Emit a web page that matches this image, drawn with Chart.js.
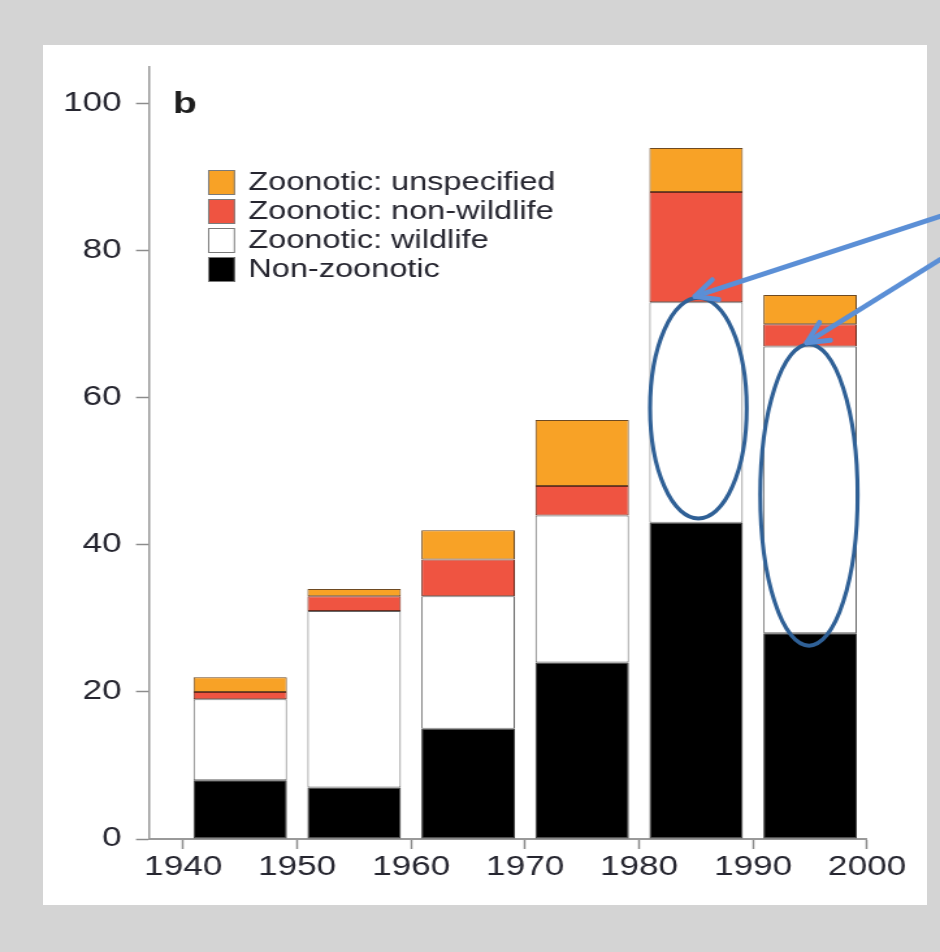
<!DOCTYPE html>
<html>
<head>
<meta charset="utf-8">
<title>Emerging infectious disease events by decade</title>
<script src="https://cdn.jsdelivr.net/npm/chart.js@4.4.1/dist/chart.umd.min.js"></script>
<style>
  html, body { margin: 0; padding: 0; background: #d4d4d4; }
  body { width: 940px; height: 952px; position: relative; overflow: hidden; }
  #panel { position: absolute; left: 43px; top: 45px; width: 884px; height: 860px; background: #fff; }
  /* the source figure is stretched sideways, so the chart is drawn narrow and scaled out */
  #stretch { position: absolute; left: 0; top: 0; width: 723px; height: 952px;
             transform: scaleX(1.30014); transform-origin: 0 0; }
</style>
</head>
<body>
<div id="panel"></div>
<div id="stretch"><canvas id="chart"></canvas></div>
<script>
const SX = 940 / 723;
const FONT = "'Liberation Sans', Arial, Helvetica, sans-serif";

const decades = [1945, 1955, 1965, 1975, 1985, 1995];
const nonZoonotic = [8, 7, 15, 24, 43, 28];
const wildlife = [11, 24, 18, 20, 30, 39];
const nonWildlife = [1, 2, 5, 4, 15, 3];
const unspecified = [2, 1, 4, 9, 6, 4];
const yearTicks = [1940, 1950, 1960, 1970, 1980, 1990, 2000];
const countTicks = [0, 20, 40, 60, 80, 100];

// hand-drawn blue highlights, in data units (year, count)
const ellipses = [
  { x: 1985.2, y: 58.6, rx: 4.24, ry: 15.0 },
  { x: 1994.9, y: 46.8, rx: 4.27, ry: 20.5 }
];
const arrows = [
  { from: [2006.4, 84.7], to: [1984.9, 73.8] },
  { from: [2006.4, 78.8], to: [1994.7, 67.5] }
];

const series = [
  { label: "Non-zoonotic", data: nonZoonotic, color: "#000000", border: "#3c3c3c" },
  { label: "Zoonotic: wildlife", data: wildlife, color: "#ffffff", border: "#666666" },
  { label: "Zoonotic: non-wildlife", data: nonWildlife, color: "#ef5441", border: "#6e2b1d" },
  { label: "Zoonotic: unspecified", data: unspecified, color: "#f8a226", border: "#6e4a22" }
];

const overlay = {
  id: "overlay",
  afterDraw(chart) {
    const { ctx, scales: { x, y } } = chart;
    ctx.save();
    ctx.fillStyle = "#1e1e1e";
    ctx.font = "bold 30px " + FONT;
    ctx.textBaseline = "alphabetic";
    ctx.fillText("b", 133, 113);

    // legend, top entry = top of stack
    ctx.font = "25px " + FONT;
    ctx.textBaseline = "middle";
    chart.data.datasets.slice().reverse().forEach((ds, i) => {
      const top = 170 + i * 29;
      ctx.fillStyle = ds.backgroundColor;
      ctx.fillRect(160, top, 20.8, 25);
      ctx.strokeStyle = "#7a7a7a"; ctx.lineWidth = 1;
      ctx.strokeRect(160.5, top + 0.5, 19.8, 24);
      ctx.fillStyle = "#262630";
      ctx.fillText(ds.label, 191, top + 13);
    });

    // annotations drawn in unstretched page pixels
    ctx.scale(1 / SX, 1);
    const px = v => x.getPixelForValue(v) * SX;
    ellipses.forEach(e => {
      const cx = px(e.x), cy = y.getPixelForValue(e.y);
      const rx = px(e.x + e.rx) - cx, ry = cy - y.getPixelForValue(e.y + e.ry);
      ctx.beginPath();
      ctx.ellipse(cx, cy, rx, ry, 0, 0, Math.PI * 2);
      ctx.strokeStyle = "#2f6096"; ctx.lineWidth = 4;
      ctx.stroke();
    });
    arrows.forEach(a => {
      const x0 = px(a.from[0]), y0 = y.getPixelForValue(a.from[1]);
      const x1 = px(a.to[0]), y1 = y.getPixelForValue(a.to[1]);
      const ang = Math.atan2(y1 - y0, x1 - x0), L = 24, w = 0.45;
      ctx.strokeStyle = "#5b8fd6"; ctx.lineWidth = 5; ctx.lineCap = "round"; ctx.lineJoin = "round";
      ctx.beginPath(); ctx.moveTo(x0, y0); ctx.lineTo(x1, y1); ctx.stroke();
      ctx.beginPath();
      ctx.moveTo(x1 - L * Math.cos(ang - w), y1 - L * Math.sin(ang - w));
      ctx.lineTo(x1, y1);
      ctx.lineTo(x1 - L * Math.cos(ang + w), y1 - L * Math.sin(ang + w));
      ctx.stroke();
    });
    ctx.restore();
  }
};

new Chart(document.getElementById("chart"), {
  type: "bar",
  data: {
    datasets: series.map(s => ({
      label: s.label,
      data: decades.map((d, i) => ({ x: d, y: s.data[i] })),
      backgroundColor: s.color,
      borderColor: s.border,
      borderWidth: 1,
      borderSkipped: false,
      categoryPercentage: 1,
      barPercentage: 0.82
    }))
  },
  options: {
    responsive: true, maintainAspectRatio: false, animation: false,
    layout: { padding: { left: 0, top: 67, right: 56.1, bottom: 0 } },
    plugins: { legend: { display: false }, tooltip: { enabled: false } },
    scales: {
      x: {
        type: "linear", min: 1937, max: 2000, stacked: true, offset: false,
        afterBuildTicks: s => { s.ticks = yearTicks.map(v => ({ value: v })); },
        afterFit: s => { s.height = 113; },
        grid: { offset: false, drawOnChartArea: false, drawTicks: true, tickLength: 10, tickWidth: 1.5, tickColor: "#8c8c8c" },
        border: { display: true, color: "#9a9a9a", width: 2 },
        ticks: { padding: 2, color: "#262630", autoSkip: false, maxRotation: 0,
                 font: { family: FONT, size: 27 }, callback: v => String(v) }
      },
      y: {
        min: 0, max: 105, stacked: true,
        afterBuildTicks: s => { s.ticks = countTicks.map(v => ({ value: v })); },
        afterFit: s => { s.width = 114.6; },
        grid: { drawOnChartArea: false, drawTicks: true, tickLength: 10, tickWidth: 1.5, tickColor: "#8c8c8c" },
        border: { display: true, color: "#9a9a9a", width: 1.5 },
        ticks: { padding: 11, color: "#262630", font: { family: FONT, size: 27 }, callback: v => String(v) }
      }
    }
  },
  plugins: [overlay]
});
</script>
</body>
</html>
